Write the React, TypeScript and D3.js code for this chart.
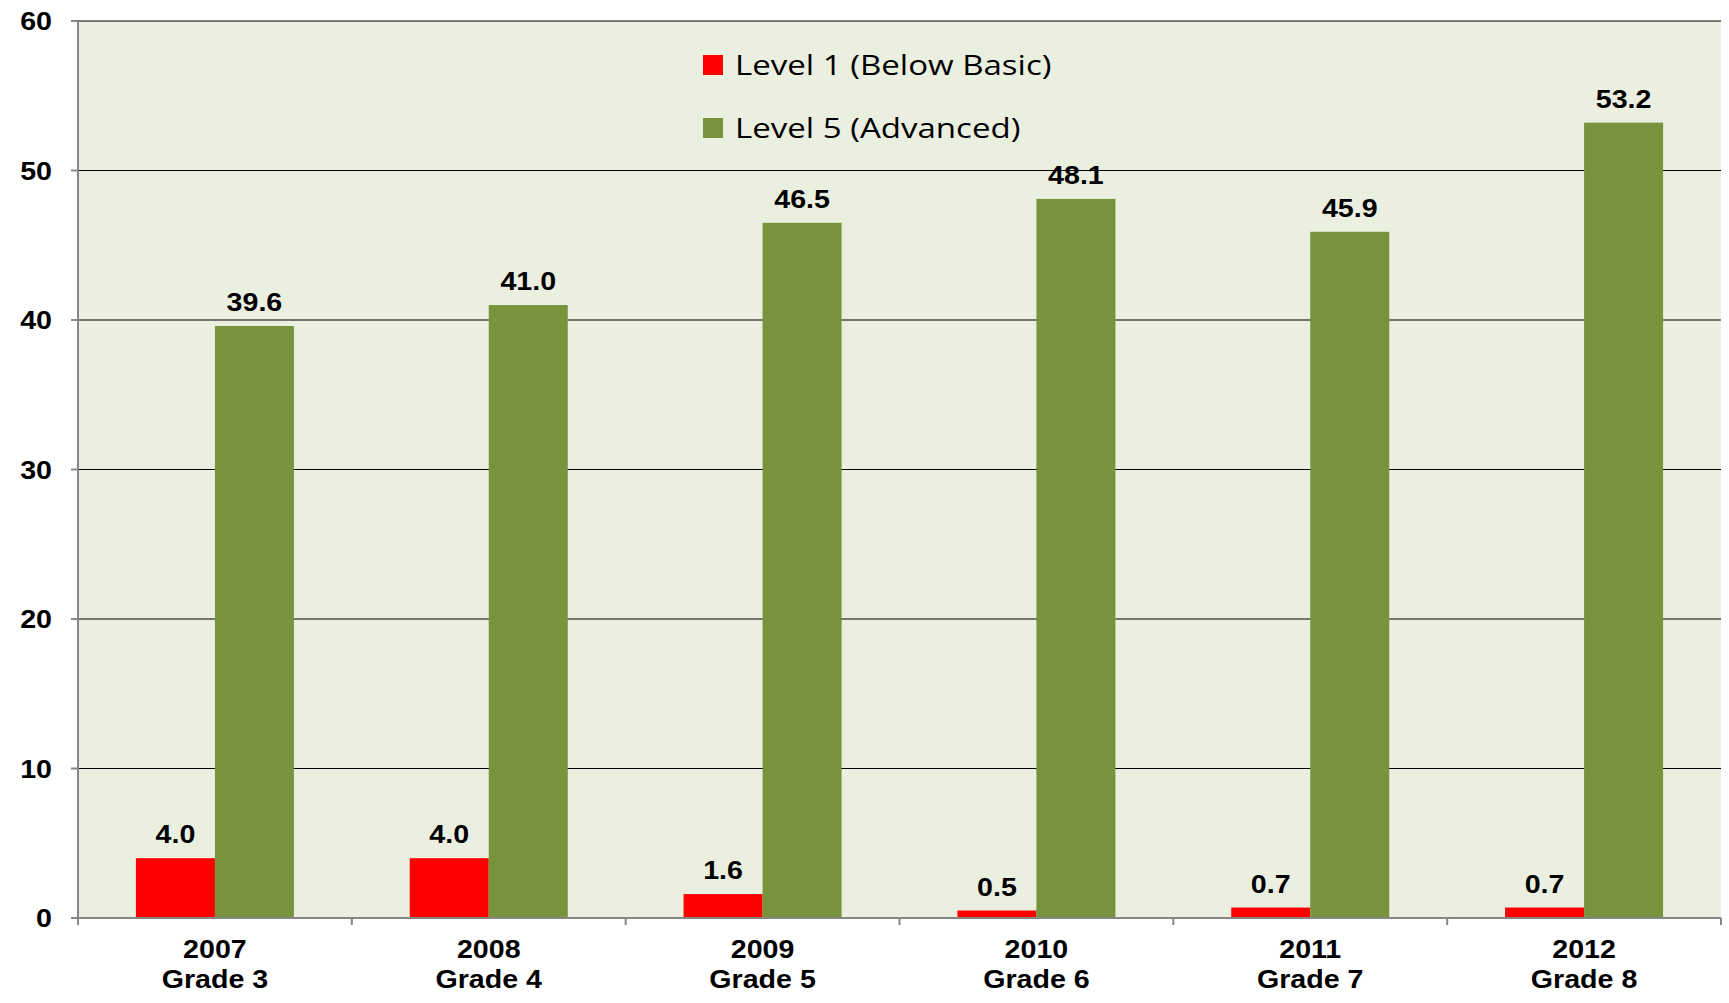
import React from 'react'
import { scaleBand, scaleLinear } from 'd3'

// chart data
const years = ['2007', '2008', '2009', '2010', '2011', '2012']
const grades = ['Grade 3', 'Grade 4', 'Grade 5', 'Grade 6', 'Grade 7', 'Grade 8']
const level1 = [4.0, 4.0, 1.6, 0.5, 0.7, 0.7]
const level5 = [39.6, 41.0, 46.5, 48.1, 45.9, 53.2]
const yTicks = [0, 10, 20, 30, 40, 50, 60]
const seriesNames = ['Level 1 (Below Basic)', 'Level 5 (Advanced)']
const seriesColors = ['#ff0000', '#77933c']

const W = 1729
const H = 1003
const left = 78
const right = 1721
const top = 21
const bottom = 918

const labelFont = 'Liberation Sans, Arial, sans-serif'

// the original text is a bit stretched sideways
function Label(props: { x: number; y: number; anchor?: string; children: any; size?: number; sx?: number; bold?: boolean; font?: string; dy?: string }) {
  const { x, y, anchor = 'middle', children, size = 26, sx = 1.1, bold = true, font = labelFont, dy } = props
  return (
    <text
      transform={`translate(${x},${y}) scale(${sx},1)`}
      textAnchor={anchor}
      dy={dy}
      fontFamily={font}
      fontWeight={bold ? 'bold' : 'normal'}
      fontSize={size}
      fill="#000"
    >
      {children}
    </text>
  )
}

export default function App() {
  const x = scaleBand<string>().domain(years).range([left, right]).paddingInner(0).paddingOuter(0)
  const inner = scaleBand<string>().domain(['l1', 'l5']).range([0, x.bandwidth()]).paddingInner(0).paddingOuter(0.733)
  const y = scaleLinear().domain([0, 60]).range([bottom, top])
  const series = [level1, level5]
  const keys = ['l1', 'l5']

  return (
    <svg width={W} height={H} style={{ position: 'absolute', left: 0, top: 0 }}>
      <rect x={0} y={0} width={W} height={H} fill="#ffffff" />
      <rect x={left} y={top} width={right - left} height={bottom - top} fill="#ebefdf" />

      {/* gridlines */}
      {yTicks.filter(t => t > 0).map(t => (
        <line key={t} x1={left} x2={right} y1={y(t)} y2={y(t)} stroke="#000" strokeWidth={1.2} />
      ))}

      {/* bars */}
      {series.map((vals, si) =>
        vals.map((v, i) => (
          <rect
            key={si + '-' + i}
            x={x(years[i])! + inner(keys[si])!}
            y={y(v)}
            width={inner.bandwidth()}
            height={y(0) - y(v)}
            fill={seriesColors[si]}
          />
        ))
      )}

      {/* value labels */}
      {series.map((vals, si) =>
        vals.map((v, i) => (
          <Label
            key={'t' + si + '-' + i}
            x={x(years[i])! + inner(keys[si])! + inner.bandwidth() / 2}
            y={y(v) - 15}
          >
            {v.toFixed(1)}
          </Label>
        ))
      )}

      {/* y axis */}
      <line x1={left} x2={left} y1={top} y2={bottom} stroke="#868686" strokeWidth={2} />
      {yTicks.map(t => (
        <g key={'y' + t}>
          <line x1={left - 7} x2={left} y1={y(t)} y2={y(t)} stroke="#868686" strokeWidth={2} />
          <Label x={52} y={y(t)} anchor="end" dy="0.35em">
            {t}
          </Label>
        </g>
      ))}

      {/* x axis */}
      <line x1={left} x2={right} y1={bottom} y2={bottom} stroke="#868686" strokeWidth={2} />
      {years.map((yr, i) => (
        <line key={'xt' + i} x1={x(yr)!} x2={x(yr)!} y1={bottom} y2={bottom + 7} stroke="#868686" strokeWidth={2} />
      ))}
      <line x1={right} x2={right} y1={bottom} y2={bottom + 7} stroke="#868686" strokeWidth={2} />
      {years.map((yr, i) => (
        <g key={'xl' + i}>
          <Label x={x(yr)! + x.bandwidth() / 2} y={958}>{yr}</Label>
          <Label x={x(yr)! + x.bandwidth() / 2} y={988}>{grades[i]}</Label>
        </g>
      ))}

      {/* legend */}
      {seriesNames.map((name, i) => (
        <g key={'lg' + i} transform={`translate(703, ${55 + i * 63})`}>
          <rect x={0} y={0} width={20} height={20} fill={seriesColors[i]} />
          <Label x={32} y={10} anchor="start" dy="0.36em" size={28} sx={1.18} bold={false} font="Open Sans, sans-serif">
            {name}
          </Label>
        </g>
      ))}
    </svg>
  )
}
